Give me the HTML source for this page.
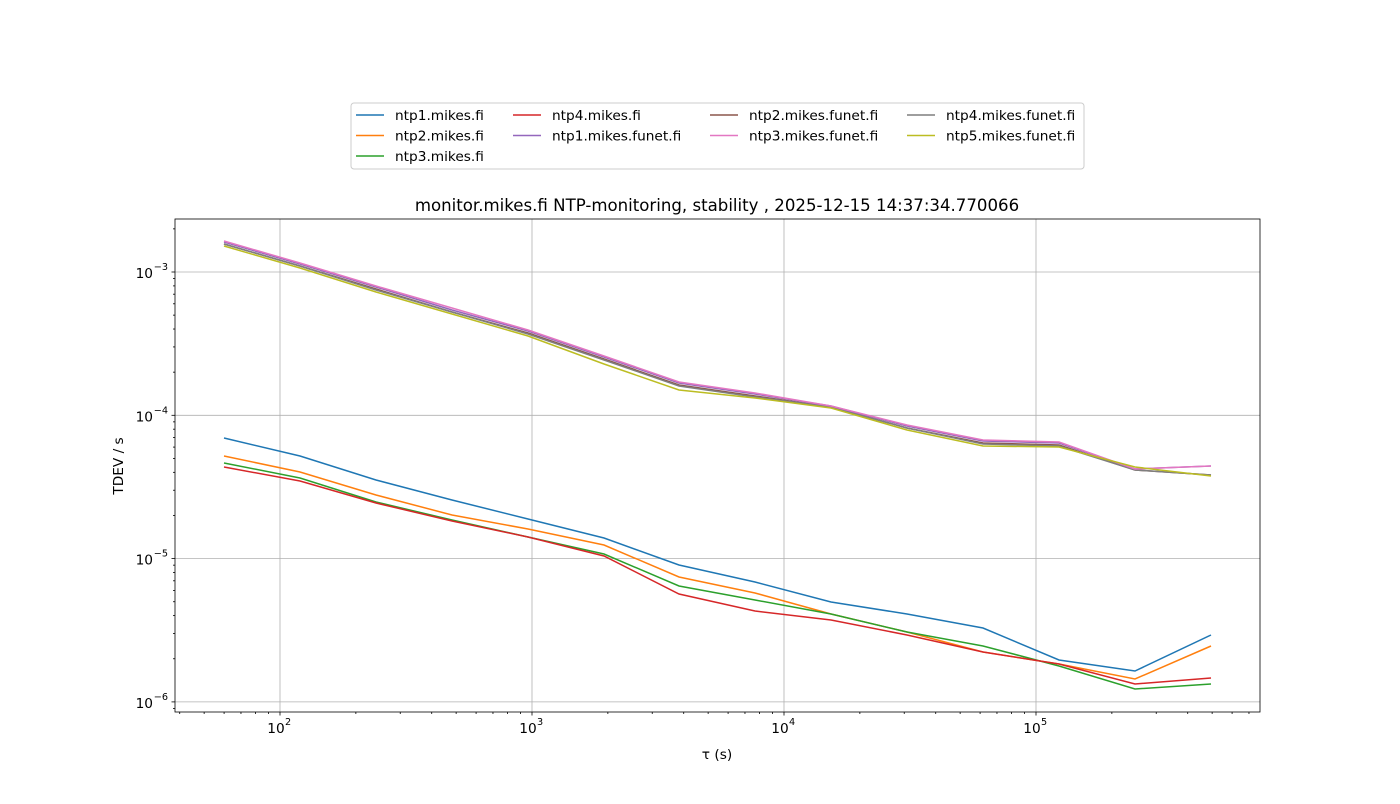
<!DOCTYPE html>
<html><head><meta charset="utf-8"><style>
body{margin:0;background:#fff;font-family:"DejaVu Sans","Liberation Sans",sans-serif}
svg text{font-family:"DejaVu Sans","Liberation Sans",sans-serif;}
</style></head><body>
<svg id="s" width="1400" height="800" xmlns="http://www.w3.org/2000/svg"></svg>
<script>
const s=document.getElementById('s');let h='';
const X0=175,X1=1260,Y0=219,Y1=712;
const xp=v=>280+252*(Math.log10(v)-2), yp=v=>272-143.3*(Math.log10(v)+3);
[100,1000,10000,100000].forEach(v=>{const x=xp(v);h+=`<line x1="${x}" y1="${Y0}" x2="${x}" y2="${Y1}" stroke="#b0b0b0" stroke-width="0.8"/>`});
[1e-3,1e-4,1e-5,1e-6].forEach(v=>{const y=yp(v);h+=`<line x1="${X0}" y1="${y}" x2="${X1}" y2="${y}" stroke="#b0b0b0" stroke-width="0.8"/>`});
for(let e=1;e<6;e++)for(let m=1;m<10;m++){const v=m*Math.pow(10,e);const x=xp(v);if(x<X0||x>X1)continue;const L=m==1?3.5:2;h+=`<line x1="${x}" y1="${Y1}" x2="${x}" y2="${Y1+L}" stroke="#000" stroke-width="0.8"/>`;
if(m==1)h+=`<text x="${x-4}" y="${Y1+21}" font-size="13.7" text-anchor="middle">10</text><text x="${x+5}" y="${Y1+13}" font-size="9.7" text-anchor="start">${e}</text>`;}
for(let e=-7;e<-1;e++)for(let m=1;m<10;m++){const v=m*Math.pow(10,e);const y=yp(v);if(y<Y0||y>Y1)continue;const L=m==1?3.5:2;h+=`<line x1="${X0-L}" y1="${y}" x2="${X0}" y2="${y}" stroke="#000" stroke-width="0.8"/>`;
if(m==1)h+=`<text x="${X0-22}" y="${y+6}" font-size="13.7" text-anchor="end">10</text><text x="${X0-7}" y="${y-2}" font-size="9.7" text-anchor="end">−${-e}</text>`;}
const xs=[224,300,376,452,528,604,679,755,831,907,983,1059,1135,1211];
const ser=[
['#1f77b4',[438,456,480,500,519,538,565,582,602,614,628,660,671,635]],
['#ff7f0e',[456,472,495,515,529,545,577,593,614,632,652,664,679,646]],
['#2ca02c',[463,478,502,520,537,554,586,600,614,632,646,666,689,684]],
['#d62728',[467,481,503,521,537,556,594,611,620,635,652,664,684,678]],
['#8c564b',[244,266,289,312,333,359,385,396,407,428,443,445,470,475]],
['#7f7f7f',[244,266,290,312,334,360,386,397,407,428,444,446,470,475]],
['#9467bd',[242,264,287,310,331,357,383,394,406,426,441,443,469,466]],
['#e377c2',[241,263,286,308,330,356,382,393,406,425,440,442,469,466]],
['#bcbd22',[246,268,292,314,336,364,390,398,408,430,446,447,467,476]]];
ser.forEach(([c,ys])=>{h+=`<polyline fill="none" stroke="${c}" stroke-width="1.5" points="${xs.map((x,i)=>x+','+ys[i]).join(' ')}"/>`});
h+=`<rect x="${X0}" y="${Y0}" width="${X1-X0}" height="${Y1-Y0}" fill="none" stroke="#000" stroke-width="0.8"/>`;
h+=`<text x="717" y="211" font-size="16.6" text-anchor="middle">monitor.mikes.fi NTP-monitoring, stability , 2025-12-15 14:37:34.770066</text>`;
h+=`<text x="717" y="759" font-size="13.7" text-anchor="middle">τ (s)</text>`;
h+=`<text transform="translate(123,466) rotate(-90)" font-size="13.7" text-anchor="middle">TDEV / s</text>`;
h+=`<rect x="351" y="103" width="733" height="66" rx="3" fill="#fff" stroke="#ccc"/>`;
const leg=[['ntp1.mikes.fi','#1f77b4',0,0],['ntp2.mikes.fi','#ff7f0e',0,1],['ntp3.mikes.fi','#2ca02c',0,2],['ntp4.mikes.fi','#d62728',1,0],['ntp1.mikes.funet.fi','#9467bd',1,1],['ntp2.mikes.funet.fi','#8c564b',2,0],['ntp3.mikes.funet.fi','#e377c2',2,1],['ntp4.mikes.funet.fi','#7f7f7f',3,0],['ntp5.mikes.funet.fi','#bcbd22',3,1]];
const cx=[356,513,710,907];
leg.forEach(([t,c,col,r])=>{const y=115+r*20.5;h+=`<line x1="${cx[col]}" y1="${y}" x2="${cx[col]+28}" y2="${y}" stroke="${c}" stroke-width="1.5"/><text x="${cx[col]+39}" y="${y+5}" font-size="13.7">${t}</text>`});
s.innerHTML=h;
</script>
</body></html>
